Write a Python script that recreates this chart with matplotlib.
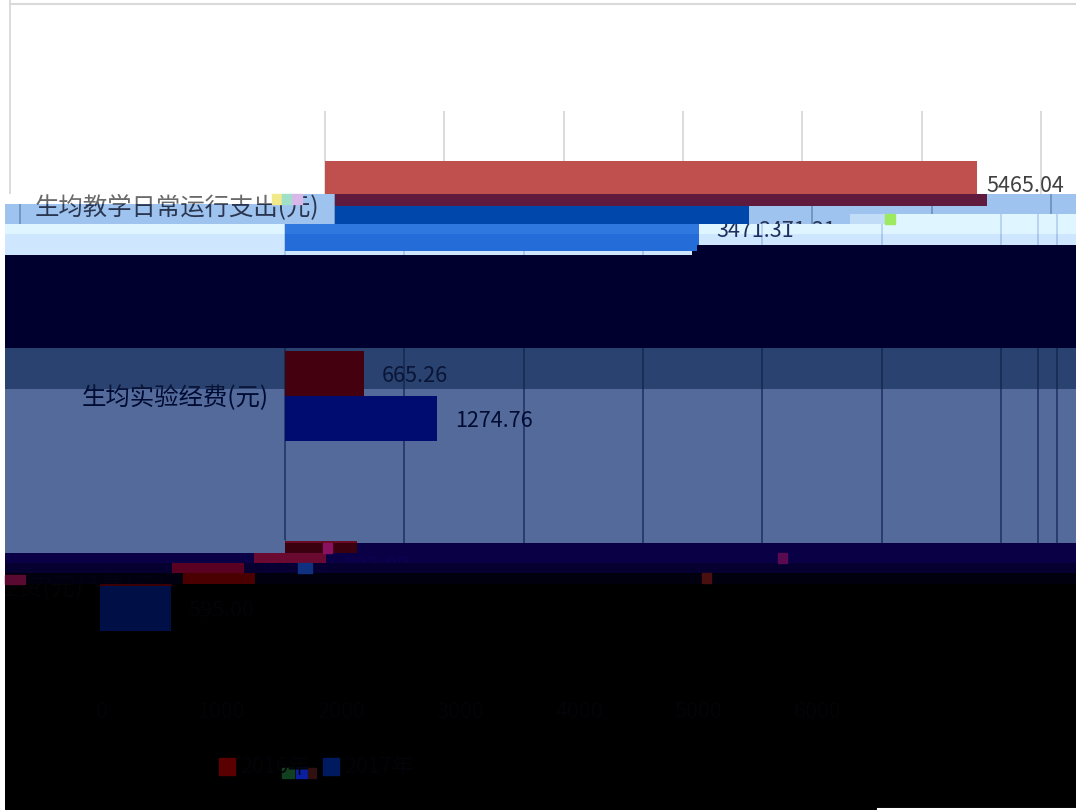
import matplotlib
matplotlib.use("Agg")
import matplotlib.pyplot as plt
from matplotlib.patches import Rectangle
from matplotlib.lines import Line2D

# ── Data ──────────────────────────────────────────────────────────────────────
categories = ["生均教学日常运行支出(元)", "生均实验经费(元)", "生均实习经费(元)"]
series_names = ["2016年", "2017年"]
values_a = [5465.04, 665.26, 603.00]
values_b = [3471.31, 1274.76, 595.00]
x_ticks = [0, 1000, 2000, 3000, 4000, 5000, 6000]

# ── Style ─────────────────────────────────────────────────────────────────────
plt.rcParams["font.family"] = ["Noto Sans CJK SC", "DejaVu Sans"]
W, H = 1076, 810
PX_PER_UNIT = 0.1193
X_ZERO = 325
ROW_H = 190.0
ROW_ZERO = 206.0
BAR_H = 45 / ROW_H
FS_LABEL, FS_VALUE = 17.6, 15.5

fig = plt.figure(figsize=(W / 100, H / 100), dpi=100, facecolor="white")


def strip(y0, y1, x0, x1, shift, bg, red, blue, grid, text, val_gap=19, extras=()):
    """One horizontal band of the picture: the same chart, displaced and re-tinted."""
    ax = fig.add_axes([x0 / W, 1 - y1 / H, (x1 - x0) / W, (y1 - y0) / H])
    ax.set_facecolor(bg)
    ax.set_xlim((x0 - X_ZERO - shift) / PX_PER_UNIT, (x1 - X_ZERO - shift) / PX_PER_UNIT)
    ax.set_ylim((y1 - ROW_ZERO) / ROW_H, (y0 - ROW_ZERO) / ROW_H)
    ax.set_axis_off()
    ax.add_patch(Rectangle((0, 0), 1, 1, transform=ax.transAxes, color=bg, zorder=0))
    if grid:
        ax.vlines(x_ticks, -0.5, 2.5, color=grid, lw=1.3, zorder=1)
        for px in extras:
            ax.axvline((px - X_ZERO) / PX_PER_UNIT, color=grid, lw=1.3, zorder=1)
    rows = list(range(len(categories)))
    ax.barh([r - BAR_H / 2 for r in rows], values_a, height=BAR_H, color=red, zorder=2)
    ax.barh([r + BAR_H / 2 for r in rows], values_b, height=BAR_H, color=blue, zorder=2)
    if text:
        for r, name in enumerate(categories):
            ax.annotate(name, (0, r), xytext=(-16 * 0.72, -1.3), textcoords="offset points",
                        ha="right", va="center", fontsize=FS_LABEL, color=text,
                        annotation_clip=False, clip_on=True)
        for r in rows:
            ax.annotate(f"{values_a[r]:.2f}", (values_a[r], r - BAR_H / 2 + 0.005),
                        xytext=(val_gap * 0.72 - 1, -1), textcoords="offset points", va="center",
                        fontsize=FS_VALUE, color=text, annotation_clip=False, clip_on=True)
            ax.annotate(f"{values_b[r]:.2f}", (values_b[r], r + BAR_H / 2 + 0.005),
                        xytext=(val_gap * 0.72 - 1, -1), textcoords="offset points", va="center",
                        fontsize=FS_VALUE, color=text, annotation_clip=False, clip_on=True)
    return ax


EXTRA = [10, 1078, 1097]

# ── Bands, top to bottom ──────────────────────────────────────────────────────
strip(0, 194, 0, W, 0, "white", "#c0504d", "#c0504d", "#d9d9d9", "#404040", 11, [10])
strip(194, 204, 0, 302, 10, "white", "#5f1a3e", "#0047ab", None, "#6a6a6a")
strip(194, 204, 302, W, 10, "#9dc3ee", "#5f1a3e", "#0047ab", "#6f93bf", "#2a3550", 11)
strip(204, 214, 5, W, 10, "#9dc3ee", "#5f1a3e", "#0047ab", "#6f93bf", "#2a3550", 11, [10])
strip(214, 224, 5, 850, 10, "#9dc3ee", "#5f1a3e", "#0047ab", "#6f93bf", "#2a3550", 11, [10])
strip(214, 224, 850, 885, 10, "#c0dcf6", "#5f1a3e", "#0047ab", None, None)
strip(214, 224, 885, W, -40, "#dff5ff", "#2f78e0", "#2f78e0", "#b5d0f0", None, extras=EXTRA)
strip(224, 234, 5, W, -40, "#dff5ff", "#2f78e0", "#2f78e0", "#b5d0f0", "#1c2f60", extras=EXTRA)
strip(234, 245, 5, W, -40, "#cfe6ff", "#246cd8", "#246cd8", "#a6c4ec", "#1c2f60", extras=EXTRA)
strip(245, 251, 5, 697, -40, "#cfe6ff", "#246cd8", "#246cd8", "#a6c4ec", "#1c2f60")
strip(251, 255, 5, 692, -40, "#cfe6ff", "#cfe6ff", "#cfe6ff", "#a6c4ec", None)
strip(245, 255, 697, W, -40, "#00002e", "#00002e", "#00002e", None, None)
strip(251, 255, 692, 697, -40, "#00002e", "#00002e", "#00002e", None, None)
strip(255, 348, 5, W, -40, "#00002e", "#00002e", "#00002e", None, None)
strip(348, 389, 5, W, -40, "#2a4270", "#45000f", "#45000f", "#182c55", "#0a1436", extras=EXTRA)
strip(389, 540, 5, W, -40, "#536a9a", "#45000f", "#000c70", "#26396a", "#000b33", extras=EXTRA)
strip(540, 553, 5, 285, -40, "#536a9a", "#45000f", "#000c70", None, None)
strip(540, 543, 285, W, -40, "#536a9a", "#6b0a20", "#000c70", "#26396a", None, extras=EXTRA)
strip(543, 553, 285, W, -40, "#0a0045", "#3a0010", "#3a0010", None, None)
strip(553, 563, 5, W, -71, "#0a0045", "#6b0a30", "#6b0a30", None, "#0e0052")
strip(563, 573, 5, W, -153, "#050030", "#5a0020", "#5a0020", None, "#080038")
strip(573, 584, 5, W, -142, "#01000f", "#4a0000", "#4a0000", None, "#020214")
strip(584, H, 5, W, -225, "#000000", "#3a0005", "#000f45", None, "#030308")

# ── Value axis tick labels and legend, nearly lost against the black band ─────
tick_ax = fig.add_axes([0, 1 - 730 / H, 1, 40 / H])
tick_ax.set_xlim((0 - X_ZERO + 223) / PX_PER_UNIT, (W - X_ZERO + 223) / PX_PER_UNIT)
tick_ax.set_ylim(0, 1)
tick_ax.set_axis_off()
for v in x_ticks:
    tick_ax.text(v, 0.45, str(v), ha="center", va="center", fontsize=15.5, color="#030308")

fig.patches.append(Rectangle((219 / W, 1 - 775 / H), 16 / W, 17 / H, transform=fig.transFigure,
                             color="#5a0000", figure=fig))
fig.patches.append(Rectangle((323 / W, 1 - 775 / H), 16 / W, 17 / H, transform=fig.transFigure,
                             color="#001a60", figure=fig))
fig.text(240 / W, 1 - 767 / H, series_names[0], va="center", fontsize=15.5, color="#030308")
fig.text(344 / W, 1 - 767 / H, series_names[1], va="center", fontsize=15.5, color="#030308")

# ── Chart frame and small damaged blocks ──────────────────────────────────────
fig.add_artist(Line2D([10 / W, 1], [1 - 4 / H, 1 - 4 / H], color="#d9d9d9", lw=1.5))
fig.add_artist(Line2D([878 / W, 1], [1 - 809 / H, 1 - 809 / H], color="white", lw=1.5))
noise_blocks = [
    (272, 194, 10, 10, "#f2e98a"), (282, 194, 10, 10, "#9fe0c8"), (292, 194, 10, 10, "#d8b8e8"),
    (885, 214, 10, 10, "#9dea60"), (323, 543, 9, 10, "#8a1060"),
    (778, 553, 9, 10, "#5a0a50"), (702, 573, 9, 10, "#4a1010"), (5, 575, 20, 9, "#5a0a30"),
    (298, 563, 14, 10, "#103080"), (282, 768, 12, 10, "#104020"), (296, 768, 12, 10, "#0a20a0"),
    (308, 768, 8, 10, "#301010"),
]
for x, y, w, h, c in noise_blocks:
    fig.patches.append(Rectangle((x / W, 1 - (y + h) / H), w / W, h / H,
                                 transform=fig.transFigure, color=c, figure=fig))

fig.savefig("out.png", dpi=100)
